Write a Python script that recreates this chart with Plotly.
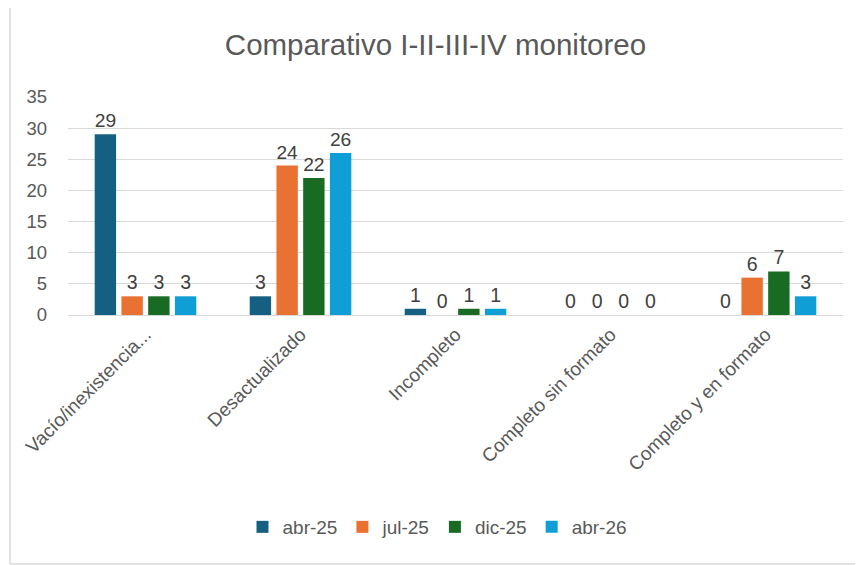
import plotly.graph_objects as go

categories = ["Vacío/inexistencia...", "Desactualizado", "Incompleto", "Completo sin formato", "Completo y en formato"]
series_names = ["abr-25", "jul-25", "dic-25", "abr-26"]
abr25 = [29, 3, 1, 0, 0]
jul25 = [3, 24, 0, 0, 6]
dic25 = [3, 22, 1, 0, 7]
abr26 = [3, 26, 1, 0, 3]
colors = ["#156082", "#E97132", "#196B24", "#0F9ED5"]
y_ticks = [0, 5, 10, 15, 20, 25, 30, 35]

# page body has an 8px margin; work in reference coords shifted by 8px
OFF = 8
W, H = 863 - OFF, 565 - OFF
L, T = 68 - OFF, 97 - OFF
pw, ph = 775, 218
R = W - L - pw
B = H - T - ph

FONT = "Liberation Sans, Arial, sans-serif"

fig = go.Figure()
for name, vals, col in zip(series_names, [abr25, jul25, dic25, abr26], colors):
    fig.add_trace(go.Bar(
        x=categories, y=vals, name=name, marker_color=col,
        marker_line=dict(width=10, color="rgba(0,0,0,0)"),
        text=[str(v) for v in vals], textposition="outside",
        textfont=dict(size=19.5, color="#404040", family=FONT),
        cliponaxis=False,
    ))

def px_x(p):
    return (p - OFF - L) / pw

def px_y(p):
    return (T + ph - (p - OFF)) / ph

border = dict(type="line", xref="paper", yref="paper",
              line=dict(color="#D9D9D9", width=1.5), layer="below")

fig.update_layout(
    width=W, height=H,
    margin=dict(l=L, r=R, t=T, b=B),
    paper_bgcolor="white", plot_bgcolor="white",
    barmode="group", bargap=0.31, bargroupgap=0.2,
    title=dict(text="Comparativo I-II-III-IV monitoreo", x=0.5, xanchor="center",
               y=1 - (45 - OFF) / H, yanchor="middle",
               font=dict(size=29.5, color="#595959", family=FONT)),
    xaxis=dict(tickangle=-45, showline=True, linecolor="#D9D9D9", linewidth=1,
               tickfont=dict(size=19, color="#595959", family=FONT),
               showgrid=False, ticks=""),
    yaxis=dict(range=[0, 35], tickvals=y_ticks, showgrid=True, gridcolor="#D9D9D9", gridwidth=1,
               zeroline=False, showline=False, ticks="",
               tickfont=dict(size=18.5, color="#595959", family=FONT),
               ticklabelstandoff=20),
    legend=dict(orientation="h", x=0.5 - 18 / pw, xanchor="center", y=px_y(527), yanchor="middle",
                font=dict(size=19, color="#595959", family=FONT),
                itemwidth=30, traceorder="normal"),
    showlegend=True,
    shapes=[
        dict(border, x0=px_x(10), x1=px_x(900), y0=px_y(5), y1=px_y(5)),
        dict(border, x0=px_x(10), x1=px_x(10), y0=px_y(5), y1=px_y(564)),
        dict(border, x0=px_x(10), x1=px_x(900), y0=px_y(564), y1=px_y(564)),
    ],
)

fig.write_html("out.html")
